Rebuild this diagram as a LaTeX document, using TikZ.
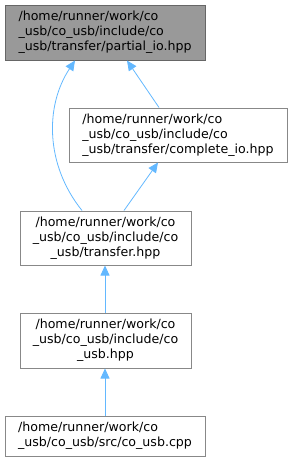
\documentclass[tikz,border=0pt]{standalone}
\usepackage{fontspec}
\setmainfont{DejaVu Sans}
\usetikzlibrary{arrows.meta}
\definecolor{edgeblue}{HTML}{63B8FF}
\definecolor{hlfill}{HTML}{999999}
\definecolor{hlborder}{HTML}{666666}
\definecolor{nborder}{HTML}{888888}
\tikzset{
  filebox/.style={draw=nborder, fill=white, line width=1pt, inner sep=0pt,
    font=\fontsize{12.6}{15}\selectfont},
  hlbox/.style={filebox, draw=hlborder, fill=hlfill},
  edge/.style={draw=edgeblue, line width=0.8pt,
    {Triangle[length=10pt,width=9pt]}-}
}
\begin{document}
\begin{tikzpicture}[x=1pt,y=-1pt]
\useasboundingbox (0,0) rectangle (293,461);
\node[hlbox, minimum width=200pt, minimum height=55pt, align=left] (b1) at (105,32.5)
  {/home/runner/work/co\\\_usb/co\_usb/include/co\\\_usb/transfer/partial\_io.hpp};
\node[filebox, minimum width=218pt, minimum height=54pt, align=left] (b2) at (178,135)
  {/home/runner/work/co\\\_usb/co\_usb/include/co\\\_usb/transfer/complete\_io.hpp};
\node[filebox, minimum width=171pt, minimum height=54pt, align=center] (b3) at (105.5,238)
  {/home/runner/work/co\\\_usb/co\_usb/include/co\\\_usb/transfer.hpp};
\node[filebox, minimum width=171pt, minimum height=55pt, align=center] (b4) at (105.5,340.5)
  {/home/runner/work/co\\\_usb/co\_usb/include/co\\\_usb.hpp};
\node[filebox, minimum width=200pt, minimum height=40pt, align=left] (b5) at (105,436)
  {/home/runner/work/co\\\_usb/co\_usb/src/co\_usb.cpp};
\draw[edge] ([xshift=22pt]b1.south) -- ([xshift=-19pt]b2.north);
\draw[edge] ([xshift=-20pt]b2.south) -- ([xshift=18.5pt]b3.north);
\draw[edge] ([xshift=-30pt]b1.south) .. controls +(-30,45) and +(-37,-46) .. ([xshift=-23.5pt]b3.north);
\draw[edge] ([xshift=-0.5pt]b3.south) -- ([xshift=-0.5pt]b4.north);
\draw[edge] ([xshift=-0.5pt]b4.south) -- (b5.north);
\end{tikzpicture}
\end{document}
